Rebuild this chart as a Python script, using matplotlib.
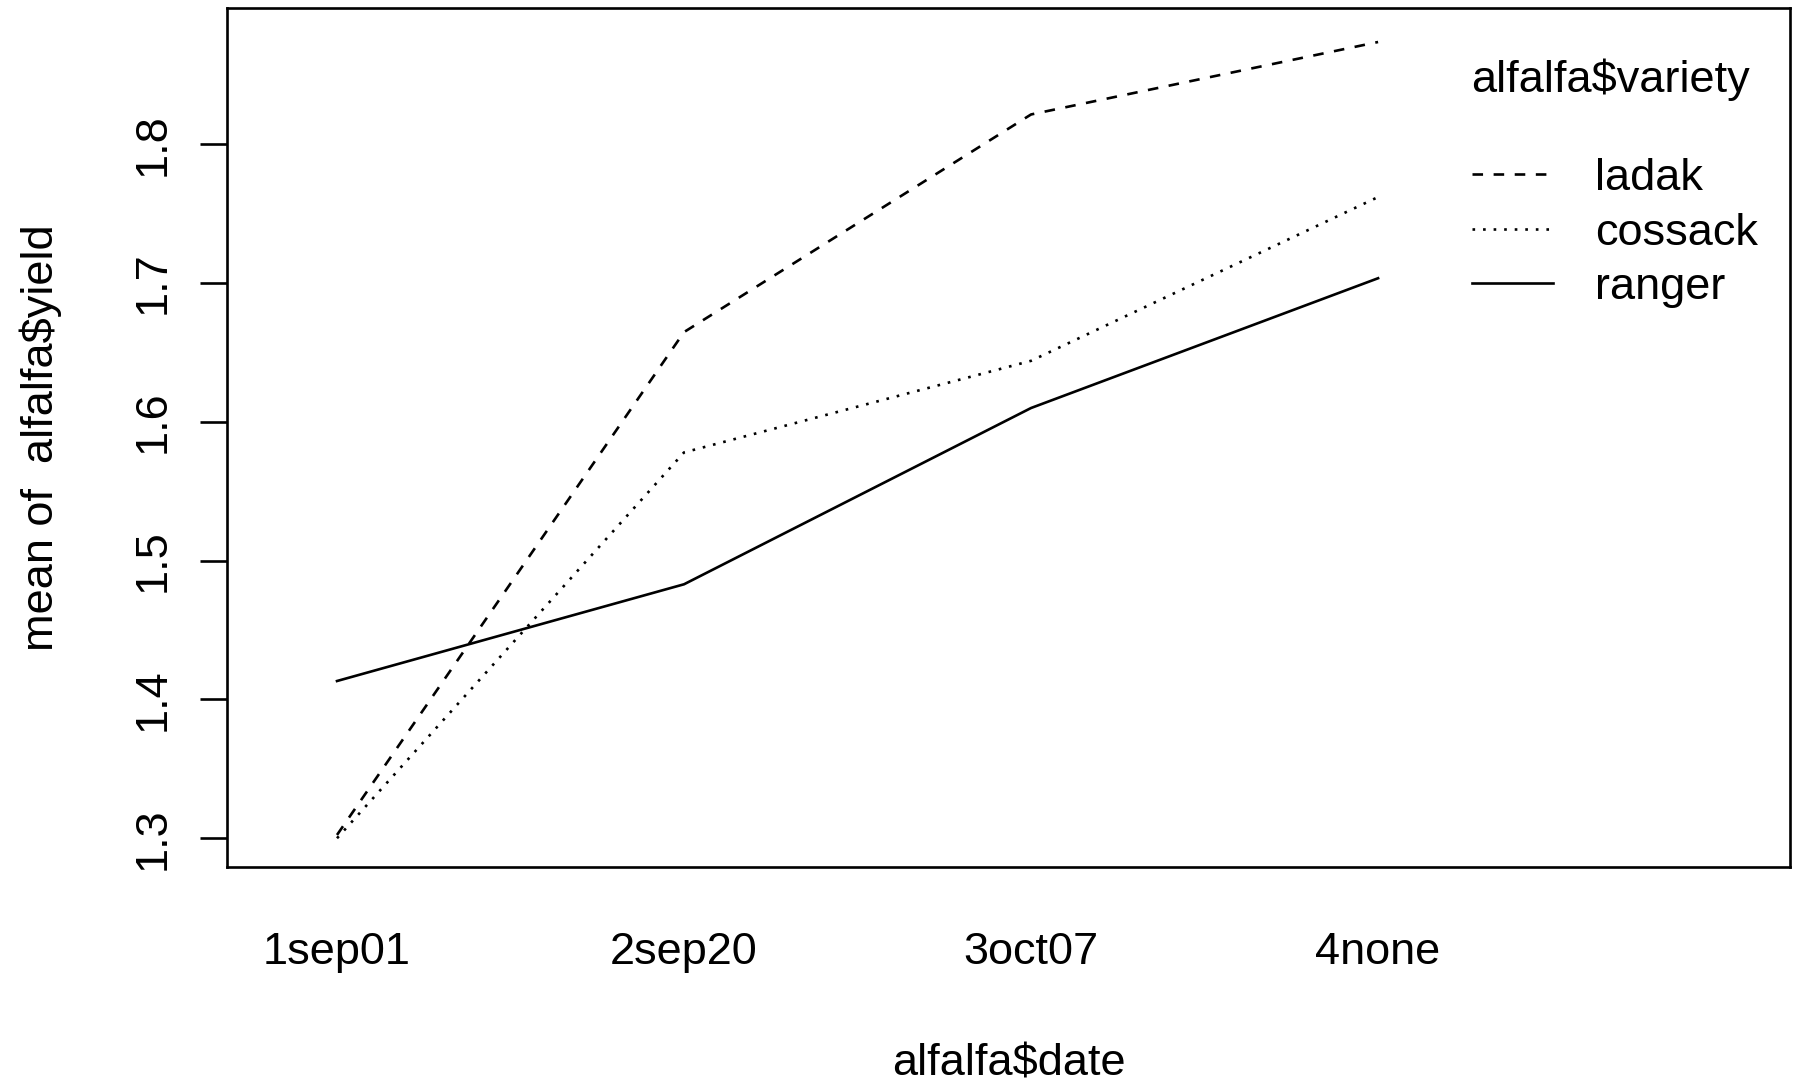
import matplotlib.pyplot as plt

plt.rcParams['font.family'] = ['Liberation Sans', 'DejaVu Sans']

# mean yield per cutting date, by variety
dates = ['1sep01', '2sep20', '3oct07', '4none']
ladak = [1.3024, 1.6647, 1.8215, 1.8737]
cossack = [1.3000, 1.5780, 1.6440, 1.7620]
ranger = [1.4133, 1.4830, 1.6100, 1.7035]
yticks = [1.3, 1.4, 1.5, 1.6, 1.7, 1.8]

W, H = 1795, 1083
FS = 32.5
fig = plt.figure(figsize=(W / 100, H / 100), dpi=100)
ax = fig.add_axes([227 / W, 1 - 867 / H, (1790 - 227) / W, (867 - 8) / H])

x = list(range(1, len(dates) + 1))
lw = 1.9
ax.plot(x, ladak, color='black', lw=lw, dashes=(4, 4), solid_capstyle='butt')
ax.plot(x, cossack, color='black', lw=lw, dashes=(1, 3))
ax.plot(x, ranger, color='black', lw=lw)

ax.set_xlim(0.683, 5.187)
ax.set_ylim(1.2793, 1.8982)

ax.set_xticks(x)
ax.set_xticklabels(dates, fontsize=FS)
ax.tick_params(axis='x', length=0, pad=47)
ax.set_yticks(yticks)
ax.set_yticklabels([f'{v:.1f}' for v in yticks], fontsize=FS, rotation=90, va='center')
ax.tick_params(axis='y', length=19.4, width=1.9, pad=19)
for s in ax.spines.values():
    s.set_linewidth(1.9)

fig.text(1008.5 / W, 1 - 1075 / H, 'alfalfa$date', fontsize=FS, ha='center', va='baseline')
fig.text(53 / W, 1 - 437.5 / H, 'mean of  alfalfa$yield', fontsize=FS, rotation=90,
         rotation_mode='anchor', ha='center', va='baseline')

# legend drawn by hand, R style
fig.text(1471 / W, 1 - 75 / H, 'alfalfa$variety', fontsize=FS, ha='left', va='center_baseline')
names = ['ladak', 'cossack', 'ranger']
styles = [(4, 4), (1, 3), None]
ys = [174, 229, 283]
for name, d, yy in zip(names, styles, ys):
    ln = plt.Line2D([1472 / W, 1553 / W], [1 - yy / H, 1 - yy / H], transform=fig.transFigure,
                    color='black', lw=lw)
    if d:
        ln.set_dashes(d)
    fig.add_artist(ln)
    fig.text(1595 / W, 1 - yy / H, name, fontsize=FS, ha='left', va='center_baseline')

fig.savefig('out.png', dpi=100)
